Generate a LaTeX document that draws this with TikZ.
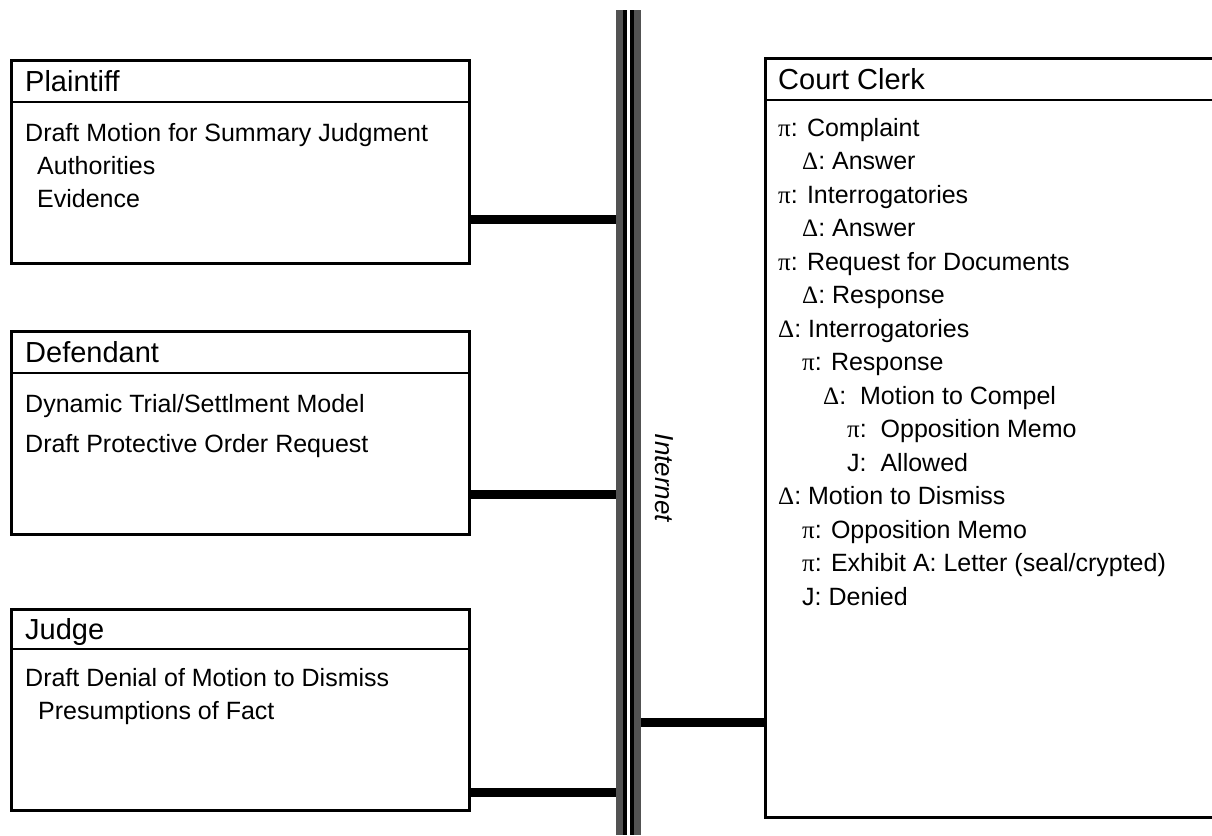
\documentclass[tikz,border=0pt]{standalone}
\usepackage{fontspec}
\setmainfont{Liberation Sans}
\newfontfamily\symf{Liberation Serif}
\newcommand{\PI}{{\symf π}}
\newcommand{\DL}{{\symf Δ}}
\begin{document}
\begin{tikzpicture}[x=1pt,y=-1pt,
  boxframe/.style={draw=black,line width=3pt,inner sep=0pt,anchor=north west},
  divline/.style={draw=black,line width=1.6pt},
  hdr/.style={anchor=base west,inner sep=0pt,font=\fontsize{29}{29}\selectfont},
  txt/.style={anchor=base west,inner sep=0pt,font=\fontsize{25}{25}\selectfont},
  link/.style={draw=black,line width=9pt},
  busbar/.style={fill=black!68,draw=none,inner sep=0pt,anchor=north west,minimum width=11pt,minimum height=825pt},
]
\useasboundingbox (0,0) rectangle (1212,835);
% bus
\node[busbar] (busL) at (616,10) {};
\node[busbar] (busR) at (630,10) {};
\fill[black] (623,10) rectangle (627,835);
\fill[black] (630,10) rectangle (634,835);
\node[font=\itshape\fontsize{26}{26}\selectfont, rotate=-90, inner sep=0pt] (inet) at (664,478) {Internet};

% Plaintiff
\node[boxframe, minimum width=458pt, minimum height=203pt] (pl) at (10,59) {};
\coordinate (pld) at (0,102);
\draw[divline] (pl.west |- pld) -- (pl.east |- pld);
\node[hdr] (plh) at (25,91) {Plaintiff};
\node[txt] (pl1) at (25,141) {Draft Motion for Summary Judgment};
\node[txt] (pl2) at (37,174) {Authorities};
\node[txt] (pl3) at (37,207) {Evidence};
\coordinate (plc) at (0,219);
\draw[link] (pl.east |- plc) -- (busL.west |- plc);

% Defendant
\node[boxframe, minimum width=458pt, minimum height=203pt] (df) at (10,330) {};
\coordinate (dfd) at (0,373);
\draw[divline] (df.west |- dfd) -- (df.east |- dfd);
\node[hdr] (dfh) at (25,362) {Defendant};
\node[txt] (df1) at (25,412) {Dynamic Trial/Settlment Model};
\node[txt] (df2) at (25,452) {Draft Protective Order Request};
\coordinate (dfc) at (0,494);
\draw[link] (df.east |- dfc) -- (busL.west |- dfc);

% Judge
\node[boxframe, minimum width=458pt, minimum height=201pt] (jd) at (10,608) {};
\coordinate (jdd) at (0,649);
\draw[divline] (jd.west |- jdd) -- (jd.east |- jdd);
\node[hdr] (jdh) at (25,639) {Judge};
\node[txt] (jd1) at (25,686) {Draft Denial of Motion to Dismiss};
\node[txt] (jd2) at (38,719) {Presumptions of Fact};
\coordinate (jdc) at (0,792);
\draw[link] (jd.east |- jdc) -- (busL.west |- jdc);

% Court Clerk
\node[boxframe, minimum width=456pt, minimum height=759pt] (cl) at (764,57) {};
\coordinate (cld) at (0,100);
\draw[divline] (cl.west |- cld) -- (cl.east |- cld);
\node[hdr] (clh) at (778,89) {Court Clerk};
\node[txt] (c1) at (778,136) {\PI: Complaint};
\node[txt] (c2) at (802,169.5) {\DL: Answer};
\node[txt] (c3) at (778,203) {\PI: Interrogatories};
\node[txt] (c4) at (802,236.5) {\DL: Answer};
\node[txt] (c5) at (778,270) {\PI: Request for Documents};
\node[txt] (c6) at (802,303.5) {\DL: Response};
\node[txt] (c7) at (778,337) {\DL: Interrogatories};
\node[txt] (c8) at (802,370.5) {\PI: Response};
\node[txt] (c9) at (823,404) {\DL:\ \ Motion to Compel};
\node[txt] (c10) at (847,437.5) {\PI:\ \ Opposition Memo};
\node[txt] (c11) at (847,471) {J:\ \ Allowed};
\node[txt] (c12) at (778,504.5) {\DL: Motion to Dismiss};
\node[txt] (c13) at (802,538) {\PI: Opposition Memo};
\node[txt] (c14) at (802,571.5) {\PI: Exhibit A: Letter (seal/crypted)};
\node[txt] (c15) at (802,605) {J: Denied};
\coordinate (clc) at (0,722);
\draw[link] (busR.east |- clc) -- (cl.west |- clc);
\end{tikzpicture}
\end{document}
